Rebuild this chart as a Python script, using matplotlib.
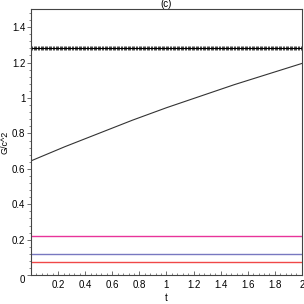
import matplotlib.pyplot as plt
import numpy as np
from matplotlib.ticker import MultipleLocator

plt.rcParams['font.family'] = ['Liberation Sans', 'DejaVu Sans']

# data
t = [0.0, 0.25, 0.5, 0.75, 1.0, 1.25, 1.5, 1.75, 2.0]
g_curve = [0.645, 0.725, 0.80, 0.875, 0.945, 1.01, 1.075, 1.135, 1.195]
g_top = 1.281
g_pink = 0.222
g_blue = 0.122
g_red = 0.072

xticks = [0.2, 0.4, 0.6, 0.8, 1.0, 1.2, 1.4, 1.6, 1.8, 2.0]
xlabels = ['0.2', '0.4', '0.6', '0.8', '1', '1.2', '1.4', '1.6', '1.8', '2']
yticks = [0, 0.2, 0.4, 0.6, 0.8, 1.0, 1.2, 1.4]
ylabels = ['0', '0.2', '0.4', '0.6', '0.8', '1', '1.2', '1.4']

fig = plt.figure(figsize=(3.04, 3.04), dpi=100)
ax = fig.add_axes([0.102, 0.095, 0.891, 0.874])

# dense cross-marked constant line
tt = np.linspace(0, 2, 200)
ax.plot(tt, np.full_like(tt, g_top), color='black', linewidth=0.8,
        marker='+', markersize=2.2, markeredgewidth=0.5)
ax.plot(t, g_curve, color='#333333', linewidth=0.8)
ax.axhline(g_pink, color='#e8349a', linewidth=1.0)
ax.axhline(g_blue, color='#7878c0', linewidth=1.0)
ax.axhline(g_red, color='#f04848', linewidth=1.0)

ax.set_xlim(0, 2)
ax.set_ylim(0, 1.5)
ax.set_xticks(xticks)
ax.set_xticklabels(xlabels)
ax.set_yticks(yticks)
ax.set_yticklabels(ylabels)
ax.get_yticklabels()[0].set_va('top')
ax.xaxis.set_minor_locator(MultipleLocator(0.04))
ax.yaxis.set_minor_locator(MultipleLocator(0.04))
ax.tick_params(axis='x', which='both', direction='in', pad=3.5)
ax.tick_params(axis='y', which='both', direction='out', pad=1)
ax.tick_params(which='major', length=3, width=0.6, labelsize=7, color='#555555')
ax.tick_params(which='minor', length=1.5, width=0.5, color='#555555')
for s in ax.spines.values():
    s.set_linewidth(0.8)
    s.set_color('#444444')

ax.set_xlabel('t', fontsize=7)
ax.xaxis.set_label_coords(0.5, -0.068)
ax.set_ylabel('G/c^2', fontsize=6.5)
ax.yaxis.set_label_coords(-0.079, 0.5)
ax.set_title('(c)', fontsize=7, pad=1)

fig.savefig('out.png', dpi=100)
